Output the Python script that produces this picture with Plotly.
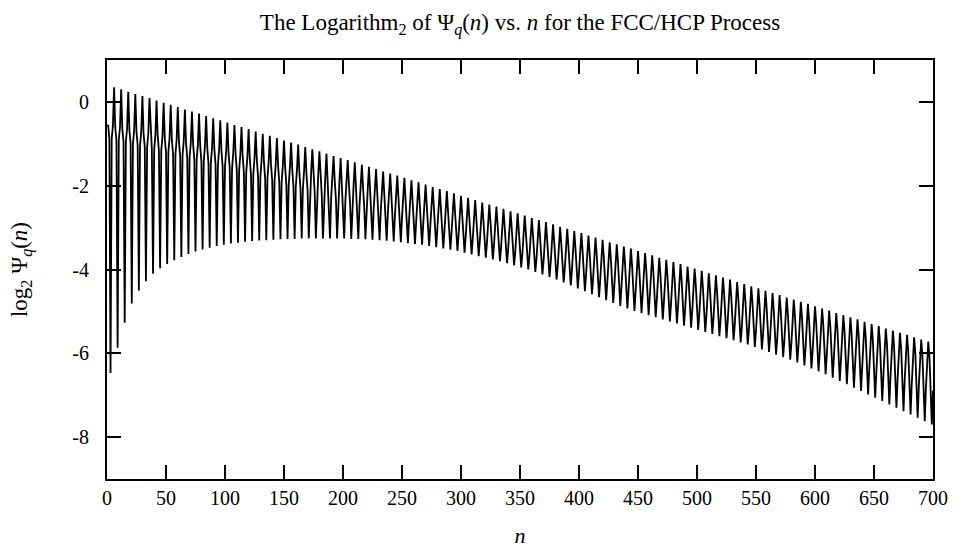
import plotly.graph_objects as go

# Per-cycle values (cycle length 6 in n)
top_spike = [-0.55, 0.35, 0.30, 0.24, 0.19, 0.14, 0.09, 0.03, -0.02, -0.07,
             -0.12, -0.18, -0.23, -0.28, -0.34, -0.39, -0.44, -0.49, -0.55, -0.60,
             -0.65, -0.71, -0.76, -0.81, -0.86, -0.92, -0.97, -1.02, -1.08, -1.13,
             -1.18, -1.23, -1.29, -1.34, -1.39, -1.44, -1.50, -1.55, -1.60, -1.66,
             -1.71, -1.76, -1.81, -1.87, -1.92, -1.97, -2.03, -2.08, -2.13, -2.18,
             -2.24, -2.29, -2.34, -2.40, -2.45, -2.50, -2.55, -2.61, -2.66, -2.71,
             -2.77, -2.82, -2.87, -2.92, -2.98, -3.03, -3.08, -3.13, -3.19, -3.24,
             -3.29, -3.35, -3.40, -3.45, -3.50, -3.56, -3.61, -3.66, -3.72, -3.77,
             -3.82, -3.87, -3.93, -3.98, -4.03, -4.09, -4.14, -4.19, -4.24, -4.30,
             -4.35, -4.40, -4.45, -4.51, -4.56, -4.61, -4.67, -4.72, -4.77, -4.82,
             -4.88, -4.93, -4.98, -5.04, -5.09, -5.14, -5.19, -5.25, -5.30, -5.35,
             -5.41, -5.46, -5.51, -5.56, -5.62, -5.67, -5.72]

band_hi = [-0.57, -0.61, -0.64, -0.68, -0.72, -0.76, -0.80, -0.83, -0.87, -0.91,
           -0.95, -0.98, -1.02, -1.06, -1.10, -1.14, -1.17, -1.21, -1.25, -1.30,
           -1.34, -1.39, -1.43, -1.48, -1.52, -1.57, -1.61, -1.66, -1.70, -1.75,
           -1.79, -1.84, -1.88, -1.93, -1.97, -2.02, -2.06, -2.11, -2.15, -2.20,
           -2.24, -2.29, -2.33, -2.38, -2.42, -2.47, -2.51, -2.56, -2.60, -2.65,
           -2.69, -2.74, -2.78, -2.83, -2.87, -2.92, -2.97, -3.02, -3.08, -3.13,
           -3.18, -3.23, -3.28, -3.34, -3.39, -3.44, -3.49, -3.54, -3.60, -3.65,
           -3.70, -3.75, -3.80, -3.86, -3.91, -3.96, -4.01, -4.06, -4.12, -4.17,
           -4.22, -4.27, -4.32, -4.38, -4.43, -4.48, -4.53, -4.58, -4.64, -4.69,
           -4.74, -4.79, -4.84, -4.90, -4.95, -5.00, -5.05, -5.10, -5.16, -5.21,
           -5.26, -5.31, -5.36, -5.42, -5.47, -5.52, -5.57, -5.62, -5.68, -5.73,
           -5.78, -5.83, -5.88, -5.94, -5.99, -6.04, -6.09]

band_lo = [-0.87, -0.91, -0.95, -0.99, -1.04, -1.08, -1.13, -1.16, -1.20, -1.25,
           -1.29, -1.33, -1.37, -1.42, -1.46, -1.50, -1.54, -1.58, -1.63, -1.68,
           -1.73, -1.78, -1.82, -1.88, -1.92, -1.98, -2.02, -2.08, -2.12, -2.17,
           -2.22, -2.27, -2.32, -2.37, -2.42, -2.47, -2.51, -2.57, -2.61, -2.67,
           -2.71, -2.77, -2.81, -2.86, -2.91, -2.96, -3.01, -3.06, -3.11, -3.16,
           -3.21, -3.26, -3.30, -3.36, -3.40, -3.46, -3.51, -3.57, -3.63, -3.68,
           -3.74, -3.79, -3.85, -3.91, -3.97, -4.02, -4.07, -4.13, -4.19, -4.25,
           -4.30, -4.36, -4.41, -4.47, -4.53, -4.58, -4.64, -4.69, -4.76, -4.81,
           -4.86, -4.92, -4.97, -5.04, -5.09, -5.15, -5.20, -5.25, -5.32, -5.37,
           -5.43, -5.48, -5.54, -5.60, -5.65, -5.71, -5.76, -5.82, -5.88, -5.94,
           -5.99, -6.04, -6.10, -6.16, -6.22, -6.27, -6.33, -6.38, -6.44, -6.50,
           -6.55, -6.61, -6.66, -6.73, -6.78, -6.83, -6.89]

bottom_spike = [-6.47, -5.87, -5.27, -4.81, -4.50, -4.28, -4.10, -3.97, -3.87, -3.78,
                -3.70, -3.63, -3.57, -3.52, -3.48, -3.44, -3.41, -3.38, -3.36, -3.34,
                -3.32, -3.31, -3.30, -3.29, -3.28, -3.27, -3.27, -3.26, -3.26, -3.26,
                -3.26, -3.26, -3.26, -3.26, -3.27, -3.27, -3.28, -3.29, -3.30, -3.31,
                -3.33, -3.35, -3.37, -3.39, -3.41, -3.44, -3.47, -3.50, -3.53, -3.56,
                -3.60, -3.64, -3.68, -3.72, -3.76, -3.80, -3.85, -3.90, -3.95, -4.00,
                -4.06, -4.12, -4.18, -4.24, -4.31, -4.38, -4.45, -4.52, -4.59, -4.66,
                -4.73, -4.80, -4.87, -4.93, -4.99, -5.04, -5.09, -5.14, -5.19, -5.24,
                -5.29, -5.34, -5.39, -5.44, -5.49, -5.54, -5.59, -5.64, -5.69, -5.74,
                -5.79, -5.85, -5.91, -5.97, -6.03, -6.09, -6.15, -6.22, -6.29, -6.36,
                -6.43, -6.50, -6.58, -6.66, -6.74, -6.82, -6.90, -6.98, -7.06, -7.14,
                -7.22, -7.30, -7.38, -7.46, -7.54, -7.62, -7.70]

x_ticks = [0, 50, 100, 150, 200, 250, 300, 350, 400, 450, 500, 550, 600, 650, 700]
y_ticks = [0, -2, -4, -6, -8]
y_tick_text = ["0", "-2", "-4", "-6", "-8"]

n_vals, psi_vals = [], []
for k in range(len(bottom_spike)):
    seq = [top_spike[k], band_hi[k], band_lo[k], bottom_spike[k], band_lo[k], band_hi[k]]
    for j, v in enumerate(seq):
        n = 6 * k + j
        if n <= 700:
            n_vals.append(n)
            psi_vals.append(v)

FONT = "Liberation Serif"

fig = go.Figure()
fig.add_trace(go.Scatter(x=n_vals, y=psi_vals, mode="lines",
                         line=dict(color="black", width=1.8), showlegend=False,
                         hoverinfo="skip"))

fig.update_layout(
    width=960, height=556,
    margin=dict(l=107, r=25, t=60, b=76),
    paper_bgcolor="white", plot_bgcolor="white",
    font=dict(family=FONT, size=20, color="black"),
    title=dict(text="The Logarithm<sub>2</sub> of Ψ<sub><i>q</i></sub>(<i>n</i>) vs. <i>n</i> for the FCC/HCP Process",
               x=0.5, xanchor="center", xref="paper",
               y=1 - 22 / 556, yanchor="middle", yref="container",
               font=dict(family=FONT, size=23, color="black")),
    xaxis=dict(range=[0, 700], tickvals=x_ticks, ticktext=[str(v) for v in x_ticks],
               showgrid=False, zeroline=False, showline=True, linecolor="black",
               linewidth=2, mirror="ticks", ticks="inside", ticklen=14,
               tickwidth=1.5, tickcolor="black",
               title=dict(text="<i>n</i>", standoff=20, font=dict(size=22))),
    yaxis=dict(range=[-9, 1], tickvals=y_ticks, ticktext=y_tick_text,
               showgrid=False, zeroline=False, showline=True, linecolor="black",
               linewidth=2, mirror="ticks", ticks="inside", ticklen=14,
               tickwidth=1.5, tickcolor="black", ticklabelstandoff=12,
               title=dict(text="log<sub>2</sub> Ψ<sub><i>q</i></sub>(<i>n</i>)", standoff=38,
                          font=dict(size=23))),
)

fig.write_html("out.html")
